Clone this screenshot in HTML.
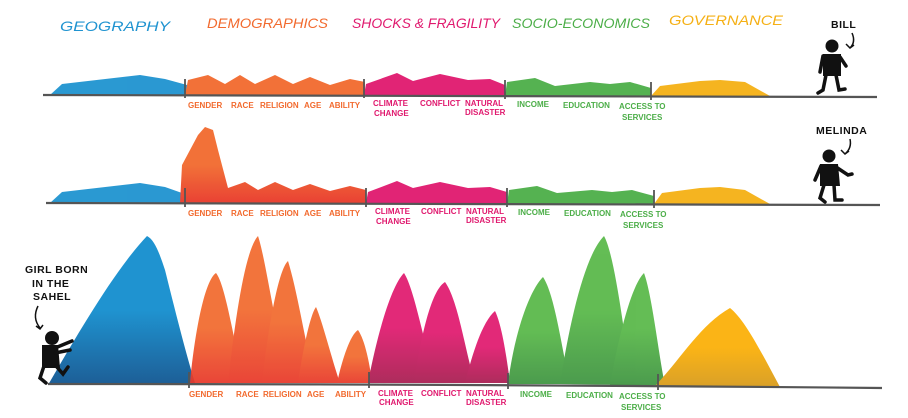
<!DOCTYPE html>
<html><head><meta charset="utf-8"><style>
html,body{margin:0;padding:0;background:#fff;width:908px;height:418px;overflow:hidden}
svg{display:block}
text{font-family:"Liberation Sans",sans-serif;font-weight:bold}
.t{font-size:14px;font-style:italic;font-weight:normal}
.l{font-size:8px}
.o{fill:#f26a2e}.p{fill:#e0196e}.g{fill:#4cae48}.b{fill:#1f93d0}.y{fill:#f5b015}
</style></head><body>
<svg width="908" height="418" viewBox="0 0 908 418" xmlns="http://www.w3.org/2000/svg">
<defs>
<linearGradient id="gb" x1="0" y1="0" x2="0" y2="1"><stop offset="0.5" stop-color="#1f93d0"/><stop offset="1" stop-color="#1d5e96"/></linearGradient>
<linearGradient id="go" x1="0" y1="0" x2="0" y2="1"><stop offset="0.5" stop-color="#f26a2e"/><stop offset="1" stop-color="#e8382a"/></linearGradient>
<linearGradient id="gp" x1="0" y1="0" x2="0" y2="1"><stop offset="0.5" stop-color="#e0196e"/><stop offset="1" stop-color="#a81d50"/></linearGradient>
<linearGradient id="gg" x1="0" y1="0" x2="0" y2="1"><stop offset="0.5" stop-color="#58b848"/><stop offset="1" stop-color="#3e9440"/></linearGradient>
<linearGradient id="gy" x1="0" y1="0" x2="0" y2="1"><stop offset="0.5" stop-color="#fbb416"/><stop offset="1" stop-color="#d9a028"/></linearGradient>
</defs>
<!-- titles -->
<text class="t b" x="60" y="31" textLength="110" lengthAdjust="spacingAndGlyphs">GEOGRAPHY</text>
<text class="t o" x="207" y="28" textLength="121" lengthAdjust="spacingAndGlyphs">DEMOGRAPHICS</text>
<text class="t p" x="352" y="28" textLength="148" lengthAdjust="spacingAndGlyphs">SHOCKS &amp; FRAGILITY</text>
<text class="t g" x="512" y="28" textLength="138" lengthAdjust="spacingAndGlyphs">SOCIO-ECONOMICS</text>
<text class="t y" x="669" y="25" textLength="114" lengthAdjust="spacingAndGlyphs">GOVERNANCE</text>

<!-- ROW 1 -->
<g opacity="0.95">
<path fill="#1f93d0" d="M50 95 L62 84 L140 75 L165 79 L187 85 L187 95Z"/>
<path fill="#f26a2e" d="M185 95 L188 80 L208 75 L225 84 L240 75 L255 84 L275 75 L293 84 L310 77 L330 85 L350 79 L365 82 L365 95Z"/>
<path fill="#e0196e" d="M364 95 L366 84 L397 73 L413 81 L440 74 L468 80 L490 79 L505 85 L505 96Z"/>
<path fill="#4cae48" d="M505 96 L507 82 L535 78 L555 86 L590 82 L610 84 L630 82 L651 88 L651 96Z"/>
<path fill="#f5b015" d="M651 96 L660 86 L700 81 L720 80 L745 82 L770 96Z"/>
</g>
<path d="M43 95 Q460 95 877 97" stroke="#555" stroke-width="2.2" fill="none"/>
<g stroke="#555" stroke-width="1.8"><line x1="185" y1="79" x2="185" y2="98"/><line x1="364" y1="79" x2="364" y2="98"/><line x1="505" y1="80" x2="505" y2="99"/><line x1="651" y1="82" x2="651" y2="100"/></g>

<!-- ROW 2 -->
<g opacity="0.95">
<path fill="#1f93d0" d="M50 203 L62 192 L140 183 L165 187 L182 193 L182 203Z"/>
<path fill="url(#go)" d="M180 203 L182 165 L198 135 L205 127 L213 130 L218 150 L228 188 L245 182 L258 190 L275 182 L293 190 L310 184 L330 191 L350 186 L366 190 L366 203Z"/>
<path fill="#e0196e" d="M366 203 L368 192 L397 181 L413 188 L440 182 L468 188 L490 187 L507 192 L507 204Z"/>
<path fill="#4cae48" d="M507 204 L509 190 L537 186 L557 193 L592 190 L612 192 L632 190 L654 196 L654 204Z"/>
<path fill="#f5b015" d="M654 204 L662 193 L700 188 L720 187 L745 190 L770 204Z"/>
</g>
<path d="M46 203 Q460 203 880 205" stroke="#555" stroke-width="2.2" fill="none"/>
<g stroke="#555" stroke-width="1.8"><line x1="185" y1="188" x2="185" y2="207"/><line x1="366" y1="188" x2="366" y2="207"/><line x1="507" y1="188" x2="507" y2="207"/><line x1="654" y1="190" x2="654" y2="208"/></g>

<!-- ROW 3 -->
<path fill="url(#gb)" d="M48 385 C80 330 115 270 147 236 C155 240 160 255 165 270 C175 310 185 350 195 383Z"/>
<g opacity="0.93">
<path fill="url(#go)" d="M190 383 C195 330 205 280 216 273 C226 285 235 350 245 383Z"/>
<path fill="url(#go)" d="M228 383 C235 320 245 250 258 236 C266 260 275 330 290 383Z"/>
<path fill="url(#go)" d="M262 383 C268 330 278 270 288 261 C297 290 305 340 315 383Z"/>
<path fill="url(#go)" d="M298 383 C303 350 310 315 316 307 C322 320 332 360 340 383Z"/>
<path fill="url(#go)" d="M337 383 C342 360 350 335 358 330 C365 340 370 365 372 383Z"/>
<path fill="url(#gp)" d="M368 383 C378 330 392 285 404 273 C415 290 425 350 437 383Z"/>
<path fill="url(#gp)" d="M414 383 C422 330 432 290 445 282 C458 300 465 350 475 383Z"/>
<path fill="url(#gp)" d="M465 383 C472 355 482 322 495 311 C502 325 507 360 510 383Z"/>
<path fill="url(#gg)" d="M508 384 C515 330 530 290 543 277 C555 295 562 350 570 384Z"/>
<path fill="url(#gg)" d="M560 384 C570 320 585 255 604 236 C615 255 625 340 632 385Z"/>
<path fill="url(#gg)" d="M610 385 C620 330 632 285 644 273 C652 295 658 350 665 385Z"/>
</g>
<path fill="url(#gy)" d="M655 386 C680 360 700 325 730 308 C745 320 760 350 780 387Z"/>
<path d="M48 384 Q460 384 882 388" stroke="#555" stroke-width="2.2" fill="none"/>
<g stroke="#555" stroke-width="1.8"><line x1="189" y1="372" x2="189" y2="388"/><line x1="369" y1="372" x2="369" y2="388"/><line x1="508" y1="373" x2="508" y2="389"/><line x1="658" y1="374" x2="658" y2="390"/></g>

<!-- labels -->
<g class="l">
<g class="o"><text x="188" y="108">GENDER</text><text x="231" y="108">RACE</text><text x="260" y="108">RELIGION</text><text x="304" y="108">AGE</text><text x="329" y="108">ABILITY</text></g>
<g class="p"><text x="373" y="106">CLIMATE</text><text x="374" y="116">CHANGE</text><text x="420" y="106">CONFLICT</text><text x="465" y="106">NATURAL</text><text x="465" y="115">DISASTER</text></g>
<g class="g"><text x="517" y="107">INCOME</text><text x="563" y="108">EDUCATION</text><text x="619" y="109">ACCESS TO</text><text x="622" y="120">SERVICES</text></g>

<g class="o"><text x="188" y="216">GENDER</text><text x="231" y="216">RACE</text><text x="260" y="216">RELIGION</text><text x="304" y="216">AGE</text><text x="329" y="216">ABILITY</text></g>
<g class="p"><text x="375" y="214">CLIMATE</text><text x="376" y="224">CHANGE</text><text x="421" y="214">CONFLICT</text><text x="466" y="214">NATURAL</text><text x="466" y="223">DISASTER</text></g>
<g class="g"><text x="518" y="215">INCOME</text><text x="564" y="216">EDUCATION</text><text x="620" y="217">ACCESS TO</text><text x="623" y="228">SERVICES</text></g>

<g class="o"><text x="189" y="397">GENDER</text><text x="236" y="397">RACE</text><text x="263" y="397">RELIGION</text><text x="307" y="397">AGE</text><text x="335" y="397">ABILITY</text></g>
<g class="p"><text x="378" y="396">CLIMATE</text><text x="379" y="405">CHANGE</text><text x="421" y="396">CONFLICT</text><text x="466" y="396">NATURAL</text><text x="466" y="405">DISASTER</text></g>
<g class="g"><text x="520" y="397">INCOME</text><text x="566" y="398">EDUCATION</text><text x="619" y="399">ACCESS TO</text><text x="621" y="410">SERVICES</text></g>
</g>

<!-- figures -->
<g fill="#111" font-size="10.5" letter-spacing="0.5">
<text x="831" y="28">BILL</text>
<text x="816" y="134">MELINDA</text>
<text x="25" y="273">GIRL BORN</text>
<text x="32" y="287">IN THE</text>
<text x="33" y="300">SAHEL</text>
</g>
<g fill="none" stroke="#111" stroke-width="1.5">
<path d="M852 33 Q856 42 850 48 M846 44 L850 48 L854 45"/>
<path d="M850 139 Q852 148 845 154 M841 150 L845 154 L849 151"/>
<path d="M38 306 Q32 318 40 328 M36 326 L40 329 L43 325"/>
</g>
<g fill="#111" stroke="#111" stroke-linecap="round">
<circle cx="832" cy="46" r="6.5" stroke="none"/>
<path d="M823 54 L841 54 L841 76 L823 76Z" stroke="none"/>
<path d="M823 56 L820 72 M840 57 L846 66 M826 75 L823 90 L818 93 M836 75 L839 90 L845 89" stroke-width="3.5" fill="none"/>
<circle cx="829" cy="156" r="6.5" stroke="none"/>
<path d="M820 164 L838 164 L840 186 L820 186Z" stroke="none"/>
<path d="M821 166 L815 180 M836 167 L848 175 L852 174 M824 185 L820 198 L825 202 M834 185 L835 200 L842 200" stroke-width="3.5" fill="none"/>
<circle cx="52" cy="338" r="7" stroke="none"/>
<path d="M42 345 L58 345 L60 368 L42 368Z" stroke="none"/>
<path d="M55 348 L72 341 M55 353 L70 350 M44 366 L40 378 L46 383 M56 366 L63 374 L68 367" stroke-width="3.5" fill="none"/>
</g>
</svg>
</body></html>
